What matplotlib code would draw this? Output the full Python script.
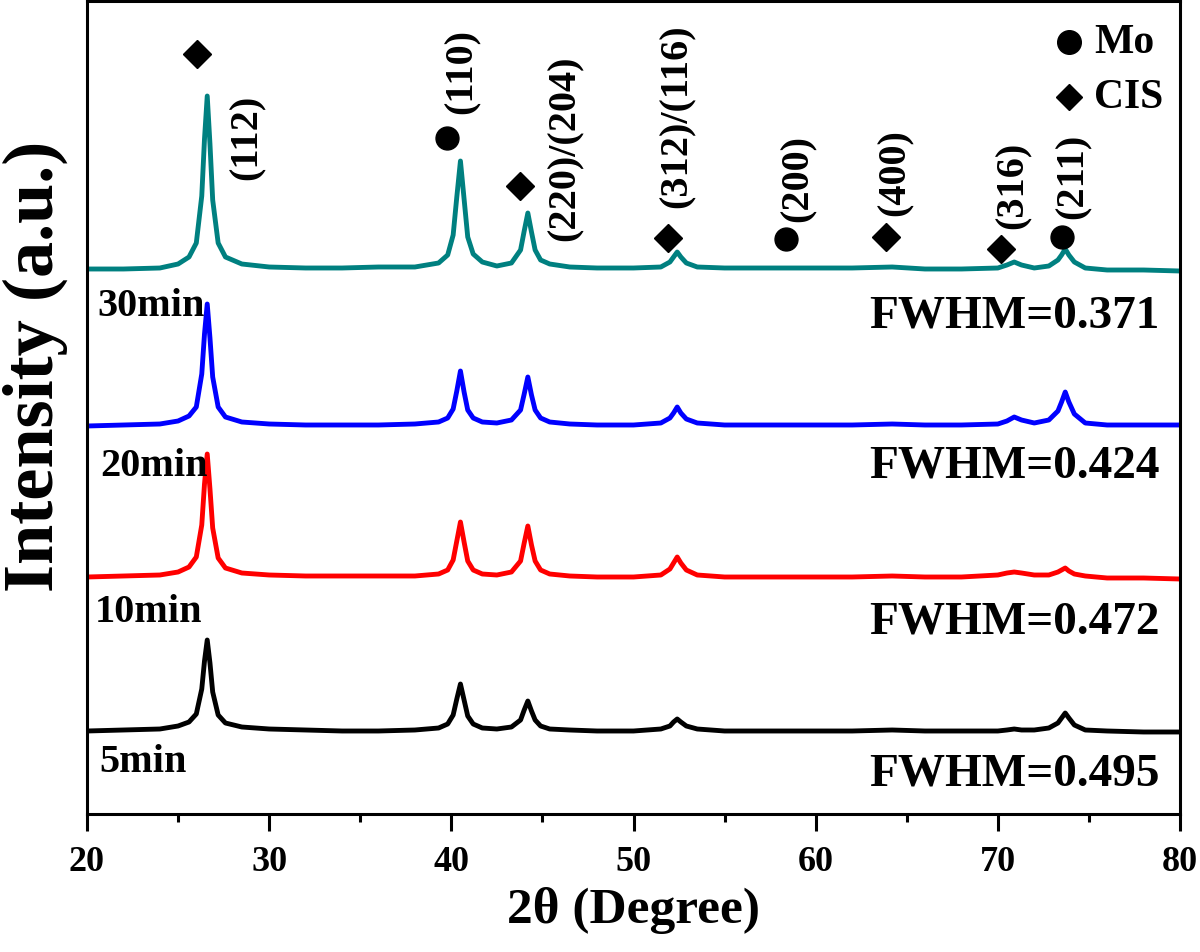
import matplotlib
matplotlib.use("Agg")
import matplotlib.pyplot as plt
from matplotlib.ticker import MultipleLocator

# ---- data ----
two_theta = [20, 22, 24, 25, 25.6, 26.0, 26.3, 26.45, 26.6, 26.75, 26.9, 27.2, 27.6, 28.5,
             30, 32, 34, 36, 38, 39.3, 39.8, 40.1, 40.3, 40.5, 40.7, 40.9, 41.2, 41.7, 42.5,
             43.3, 43.8, 44.0, 44.2, 44.4, 44.6, 44.9, 45.4, 46.5, 48, 50, 51.5, 52.0, 52.2,
             52.4, 52.6, 52.9, 53.5, 55, 57, 58.6, 60, 62, 64.2, 66, 68, 70, 70.5, 70.9, 71.3,
             72, 72.8, 73.3, 73.5, 73.7, 73.9, 74.2, 74.8, 76, 78, 80]

int_30min = [0, 0, 1, 5, 12, 26, 73, 130, 173, 125, 69, 26, 12, 5,
             2, 1, 1, 2, 2, 6, 14, 34, 72, 108, 70, 32, 15, 7, 3,
             6, 19, 38, 56, 37, 19, 9, 5, 2, 1, 1, 2, 7, 12,
             17, 12, 6, 2, 1, 1, 1, 1, 1, 2, 0, 0, 1, 4, 7, 4,
             1, 3, 9, 14, 20, 14, 7, 1, -1, -1, -2]
int_20min = [0, 1, 2, 5, 10, 19, 52, 92, 122, 88, 49, 19, 9, 4,
             2, 1, 1, 1, 2, 4, 8, 17, 35, 55, 34, 16, 8, 4, 3,
             6, 16, 32, 49, 31, 16, 8, 4, 2, 1, 1, 3, 8, 13,
             19, 13, 7, 3, 1, 1, 1, 1, 1, 2, 1, 1, 2, 5, 9, 6,
             3, 6, 15, 24, 34, 24, 12, 3, 1, 1, 1]
int_10min = [0, 1, 2, 5, 10, 20, 52, 93, 123, 88, 49, 19, 9, 4,
             2, 1, 1, 1, 1, 3, 7, 17, 36, 55, 35, 16, 7, 3, 2,
             5, 16, 34, 51, 32, 16, 7, 3, 1, 0, 0, 2, 8, 14,
             20, 14, 7, 2, 0, 0, 0, 0, 0, 1, 0, 0, 2, 4, 5, 4,
             2, 2, 5, 7, 9, 6, 3, 1, -1, -1, -2]
int_5min = [0, 1, 2, 5, 9, 17, 42, 70, 91, 68, 39, 16, 8, 4,
            2, 1, 0, 0, 1, 3, 7, 16, 32, 47, 31, 15, 7, 3, 2,
            4, 11, 21, 30, 20, 11, 5, 2, 1, 0, 0, 2, 5, 9,
            12, 9, 5, 2, 0, 0, 0, 0, 0, 1, 0, 0, 0, 1, 2, 1,
            1, 3, 8, 13, 18, 13, 6, 1, 0, -1, -1]

series_labels = ["5min", "10min", "20min", "30min"]
series_offsets = [83, 237, 388, 545]
series_colors = ["#000000", "#ff0000", "#0000ff", "#008080"]
fwhm_labels = ["FWHM=0.495", "FWHM=0.472", "FWHM=0.424", "FWHM=0.371"]

# peak annotations
peak_marker_x = [26.04, 39.76, 43.77, 51.89, 58.37, 63.86, 70.17, 73.52]
peak_marker_y = [760, 676, 628, 576, 575, 577, 565, 577]
peak_marker_kind = ["D", "o", "D", "D", "o", "D", "D", "o"]
peak_labels = ["(112)", "(110)", "(220)/(204)", "(312)/(116)", "(200)", "(400)", "(316)", "(211)"]
peak_label_x = [28.78, 40.59, 46.24, 52.39, 59.05, 64.35, 70.83, 74.13]
peak_label_y = [678, 743, 667, 699, 637, 642, 630, 639]

FONT = "Liberation Serif"

fig = plt.figure(figsize=(12, 9.53), dpi=100)
W, H = 1200, 953
ax = fig.add_axes([87 / W, 1 - 815 / H, (1180 - 87) / W, (815 - 2) / H])

all_int = [int_5min, int_10min, int_20min, int_30min]
for ys, off, col in zip(all_int, series_offsets, series_colors):
    ax.plot(two_theta, [v + off for v in ys], color=col, lw=3.5,
            solid_joinstyle="round", solid_capstyle="butt")

ax.set_xlim(20, 80)
ax.set_ylim(0, 813)
ax.set_yticks([])
ax.xaxis.set_major_locator(MultipleLocator(10))
ax.xaxis.set_minor_locator(MultipleLocator(5))
ax.tick_params(axis="x", which="major", length=12, width=2.2, direction="out", pad=10,
               labelsize=26)
ax.tick_params(axis="x", which="minor", length=6, width=2.2, direction="out")
for lab in ax.get_xticklabels():
    lab.set_fontfamily(FONT)
    lab.set_fontweight("bold")
for sp in ax.spines.values():
    sp.set_linewidth(2.2)

for mx, my, mk in zip(peak_marker_x, peak_marker_y, peak_marker_kind):
    ms = 14 if mk == "D" else 16.5
    ax.plot([mx], [my], marker=mk, color="black", ms=ms, ls="none")
for lx, ly, txt in zip(peak_label_x, peak_label_y, peak_labels):
    ax.text(lx, ly, txt, rotation=90, ha="center", va="center", fontsize=29,
            fontfamily=FONT, fontweight="bold")

# legend (manual)
ax.plot([73.9], [772], marker="o", color="black", ms=17, ls="none")
ax.plot([73.9], [717], marker="D", color="black", ms=13.5, ls="none")
ax.text(75.3, 772, "Mo", ha="left", va="center", fontsize=30, fontfamily=FONT, fontweight="bold")
ax.text(75.3, 717, "CIS", ha="left", va="center", fontsize=30, fontfamily=FONT, fontweight="bold")

# series labels
label_pos_y = [52, 202, 348, 508]
label_pos_x = [20.7, 20.45, 20.7, 20.55]
for lx, ly, txt in zip(label_pos_x, label_pos_y, series_labels):
    ax.text(lx, ly, txt, ha="left", va="center", fontsize=29, fontfamily=FONT, fontweight="bold")

fwhm_y = [40, 193, 348, 498]
for fy, txt in zip(fwhm_y, fwhm_labels):
    ax.text(78.9, fy, txt, ha="right", va="center", fontsize=34, fontfamily=FONT,
            fontweight="bold")

ax.set_xlabel("2θ (Degree)", fontsize=37, fontfamily=FONT, fontweight="bold", labelpad=6)
fig.text(35 / W, 1 - 366 / H, "Intensity (a.u.)", rotation=90, ha="center", va="center",
         fontsize=52, fontfamily=FONT, fontweight="bold")

fig.savefig("out.png", dpi=100)
